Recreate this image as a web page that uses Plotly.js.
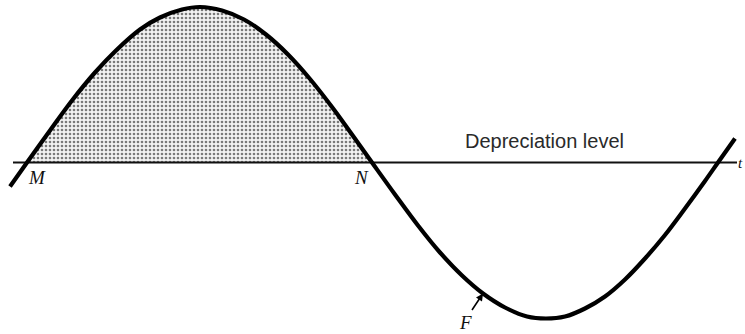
<!DOCTYPE html>
<html>
<head>
<meta charset="utf-8">
<script src="https://cdn.plot.ly/plotly-3.0.1.min.js"></script>
<style>html,body{margin:0;padding:0;background:#fff;}#chart{width:745px;height:334px;}</style>
</head>
<body>
<div id="chart"></div>
<script>
// Time (horizontal position) and level relative to the depreciation level
const cycleX = [10, 27, 50, 72, 95, 116, 140, 160, 182, 200, 222, 244, 266, 288, 310, 332, 352, 372,
                395, 418, 440, 462, 483, 505, 527, 546, 565, 585, 605, 625, 645, 665, 685, 705, 718, 735];
const cycleY = [-24, 0, 32, 62, 90, 112, 133, 145, 153, 155.5, 152, 143, 128, 108, 83.5, 55.5, 28, 0,
                -32, -63, -90, -113, -131, -145, -154, -156, -154, -146, -134, -117, -96, -72.5, -46, -18.5, 0, 24];
// Shaded hump between M and N
const humpX = [27, 50, 72, 95, 116, 140, 160, 182, 200, 222, 244, 266, 288, 310, 332, 352, 372];
const humpY = [0, 32, 62, 90, 112, 133, 145, 153, 155.5, 152, 143, 128, 108, 83.5, 55.5, 28, 0];
// Depreciation level line
const levelX = [13, 737];
const levelY = [0, 0];
// Labels
const labels = [
  {text: 'M', x: 37, y: -15, anchor: 'center'},
  {text: 'N', x: 361, y: -15, anchor: 'center'},
  {text: 'F', x: 465, y: -160, anchor: 'center'},
  {text: 't', x: 745, y: 0, anchor: 'right'}
];
const levelLabel = {text: 'Depreciation level', x: 544, y: 21.5};
const arrowPoint = {x: 483, y: -131};

const traces = [
  {x: humpX, y: humpY, type: 'scatter', mode: 'lines', line: {width: 0, shape: 'spline'},
   fill: 'tozeroy', fillcolor: '#e6e6e6',
   fillpattern: {shape: '.', fgcolor: '#7a7a7a', bgcolor: '#f3f3f3', size: 4, solidity: 0.35},
   hoverinfo: 'skip'},
  {x: levelX, y: levelY, type: 'scatter', mode: 'lines', line: {color: '#111', width: 2}, hoverinfo: 'skip'},
  {x: cycleX, y: cycleY, type: 'scatter', mode: 'lines', line: {color: '#000', width: 4.2, shape: 'spline', smoothing: 1}, hoverinfo: 'skip'}
];

const annotations = labels.map(l => ({
  text: '<i>' + l.text + '</i>', x: l.x, y: l.y, xref: 'x', yref: 'y', showarrow: false,
  xanchor: l.anchor,
  font: {family: 'Liberation Serif, serif', size: l.text === 't' ? 15 : 19, color: '#111'}
}));
annotations.push({
  text: levelLabel.text, x: levelLabel.x, y: levelLabel.y, xref: 'x', yref: 'y', showarrow: false,
  font: {family: 'Liberation Sans, sans-serif', size: 20, color: '#2a2a2a'}
});
annotations.push({
  text: '', x: arrowPoint.x, y: arrowPoint.y, xref: 'x', yref: 'y', showarrow: true,
  ax: -12, ay: 18, arrowhead: 2, arrowsize: 0.9, arrowwidth: 1.6, arrowcolor: '#000', standoff: 0
});

const layout = {
  width: 745, height: 334,
  margin: {l: 0, r: 0, t: 0, b: 0},
  paper_bgcolor: '#fff', plot_bgcolor: '#fff',
  showlegend: false,
  xaxis: {range: [0, 745], visible: false, fixedrange: true},
  yaxis: {range: [-171.5, 162.5], visible: false, fixedrange: true},
  annotations: annotations
};

Plotly.newPlot('chart', traces, layout, {staticPlot: true, displayModeBar: false});
</script>
</body>
</html>
